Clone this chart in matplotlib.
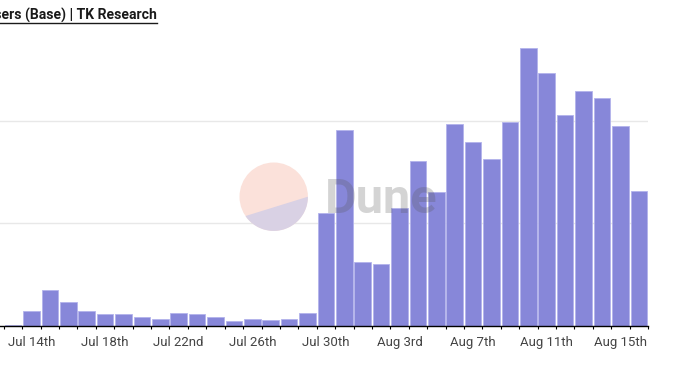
import numpy as np
import pandas as pd
import matplotlib
matplotlib.use("Agg")
import matplotlib.pyplot as plt
from matplotlib.lines import Line2D
from matplotlib.patches import Circle, Polygon

########################## data #####################################
dates = pd.date_range("2023-07-13", "2023-08-16", freq="D")
users = [10, 149, 351, 234, 146, 120, 120, 85, 71, 130, 117, 85, 49, 65, 56, 65, 124,
         1105, 1912, 627, 602, 1148, 1610, 1304, 1974, 1798, 1626, 1990,
         2715, 2465, 2061, 2293, 2224, 1951, 1314]
tick_every = 4
tick_start = 1  # Jul 14th
title = "Daily Active Users (Base) | TK Research"

def ordinal(d):
    n = d.day
    suf = "th" if 11 <= n % 100 <= 13 else {1: "st", 2: "nd", 3: "rd"}.get(n % 10, "th")
    return f"{d.strftime('%b')} {n}{suf}"

########################## figure #####################################
W, H = 678, 377
fig = plt.figure(figsize=(W / 100, H / 100), dpi=100)
plt.rcParams["font.family"] = ["Roboto", "DejaVu Sans"]

base_px, top_px, right_px = 326, 23.6, 648
ax = fig.add_axes([0, (H - base_px) / H, right_px / W, (base_px - top_px) / H])

x = np.arange(len(users))
ax.bar(x, users, width=0.9, color="#8787d9", edgecolor="#b3b3ec", linewidth=0.6, zorder=3)

ax.set_xlim(-0.71, len(users) - 0.5)
ax.set_ylim(0, 2950)
ax.set_yticks([1000, 2000])
ax.yaxis.grid(True, color="#e8e8e8", linewidth=1, zorder=0)
ax.tick_params(axis="y", length=0, labelleft=False)

ticks = x[tick_start::tick_every]
ax.set_xticks(ticks)
ax.set_xticklabels([ordinal(dates[i]) for i in ticks], fontsize=9.5, color="#444444")
ax.set_xticks(np.arange(len(users) + 1) - 0.5, minor=True)
ax.tick_params(axis="x", which="major", length=0, pad=7)
ax.tick_params(axis="x", which="minor", length=2.5, width=0.8, color="black")

for s in ["top", "right", "left"]:
    ax.spines[s].set_visible(False)
ax.spines["bottom"].set_color("black")
ax.spines["bottom"].set_linewidth(1)
ax.spines["bottom"].set_zorder(4)

########################## title + watermark overlay ##################
ov = fig.add_axes([0, 0, 1, 1], zorder=10)
ov.set_xlim(0, W)
ov.set_ylim(H, 0)
ov.axis("off")
ov.patch.set_alpha(0)

ov.text(157, 20, title, ha="right", va="baseline", fontsize=10.1,
        fontweight="bold", color="#1a1a1a")
ov.add_line(Line2D([0, 157], [22.5, 22.5], color="#1a1a1a", linewidth=1))

cx, cy, r = 273.7, 196.7, 34.2
ov.add_patch(Circle((cx, cy), r, facecolor="#fbe1da", edgecolor="none"))
ang = np.radians(np.linspace(0, 145.6, 60))
seg = np.column_stack([cx + r * np.cos(ang), cy + r * np.sin(ang)])
ov.add_patch(Polygon(seg, closed=True, facecolor="#d9d1e4", edgecolor="none"))
ov.text(325, 213, "Dune", ha="left", va="baseline", fontsize=35,
        fontweight="bold", color="#555555", alpha=0.25)

fig.savefig("out.png", dpi=100)
